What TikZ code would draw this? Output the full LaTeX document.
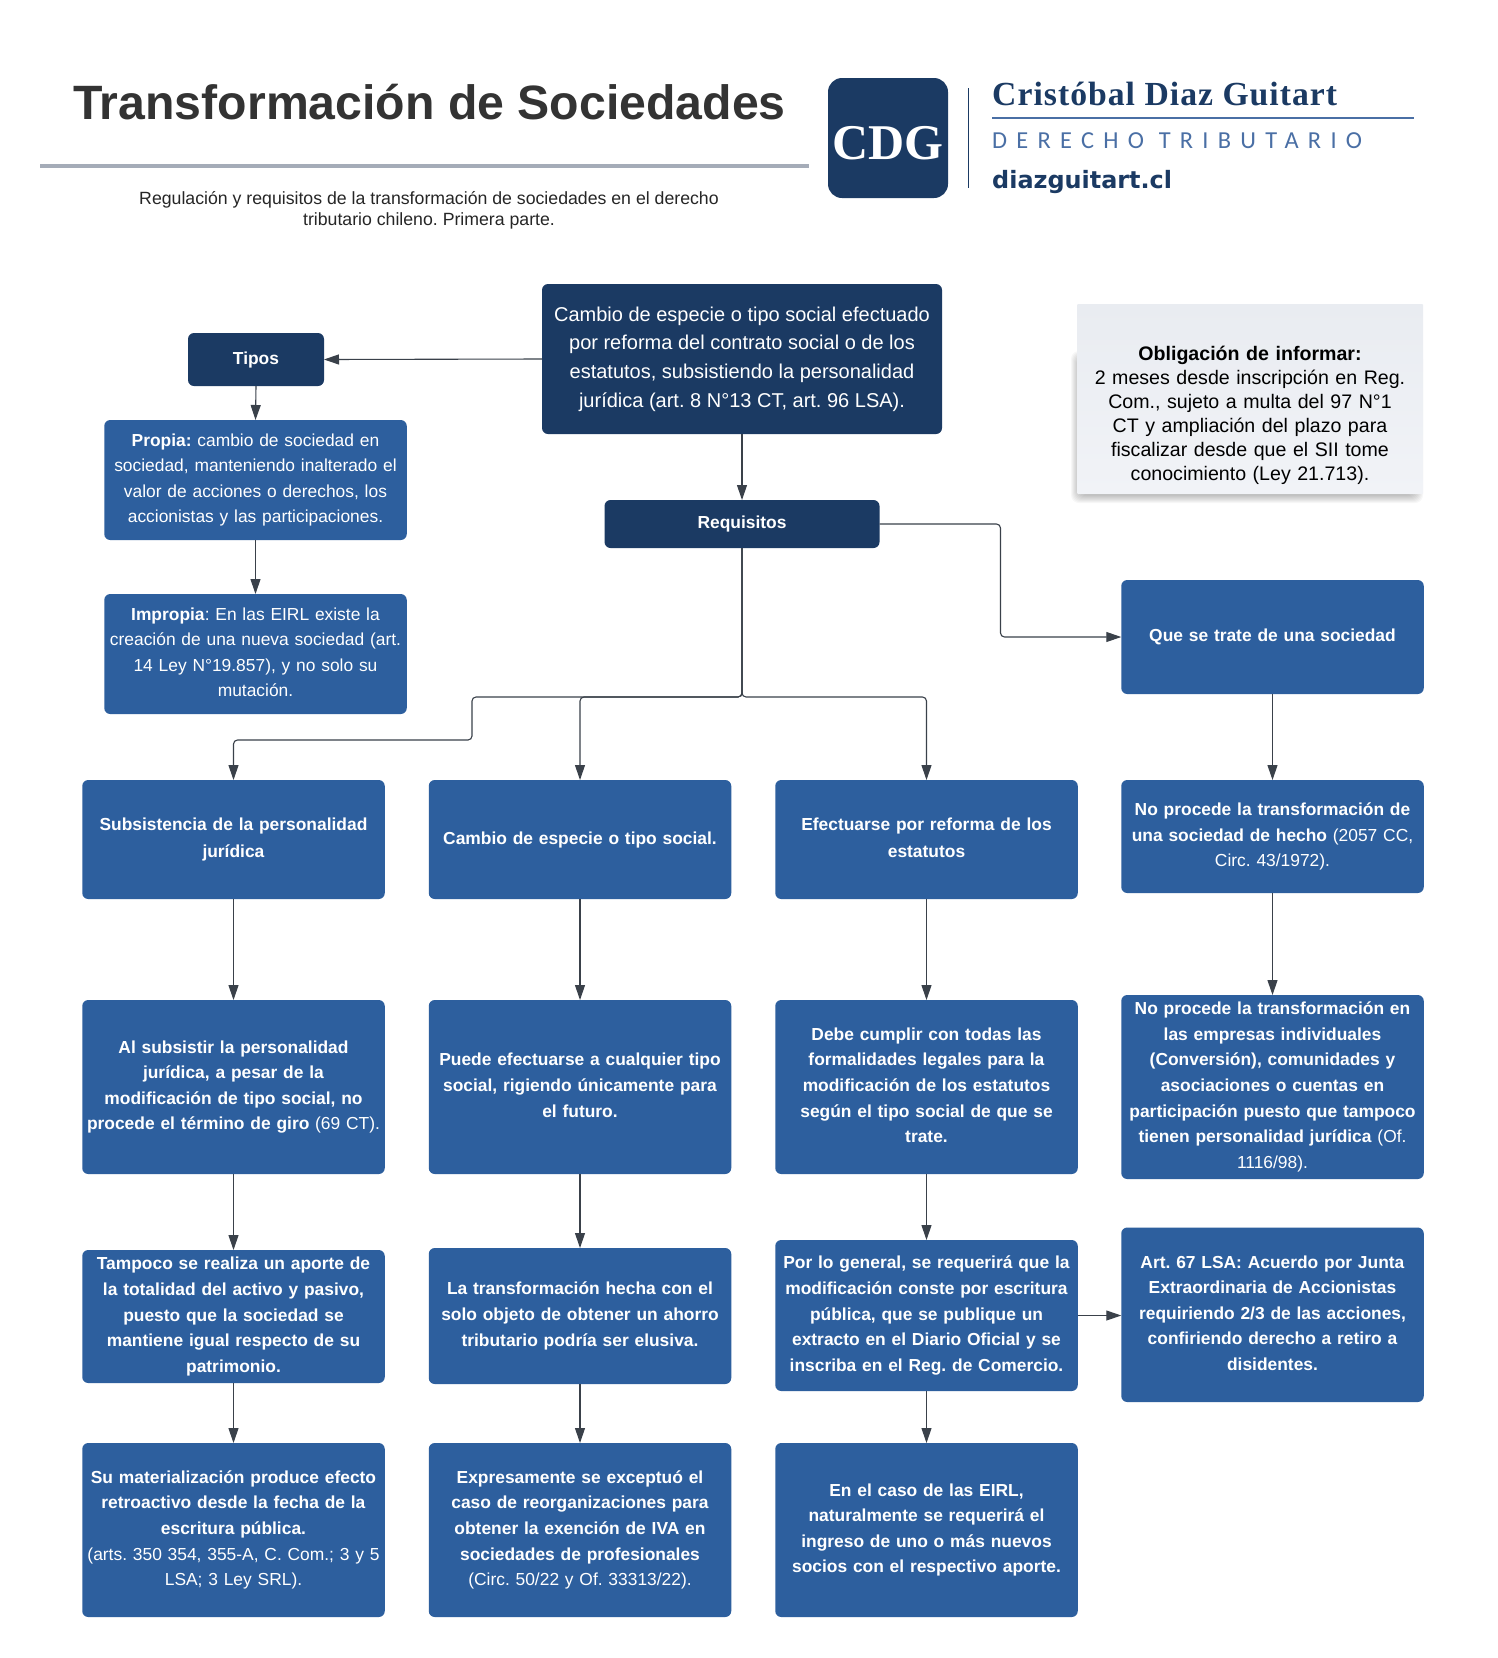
\documentclass[tikz,border=0pt]{standalone}
\usepackage{fontspec}
\setmainfont{Liberation Sans}
\newfontfamily\namefont[LetterSpace=3]{Liberation Serif}
\newfontfamily\logofont{Liberation Serif}
\newfontfamily\brandfont[LetterSpace=38]{Carlito}
\newfontfamily\webfont{DejaVu Sans}
\definecolor{cdgblue}{RGB}{45,95,158}
\definecolor{cdgnavy}{RGB}{27,58,99}
\definecolor{cdgline}{RGB}{58,65,74}
\definecolor{cdgrule}{RGB}{165,172,184}
\definecolor{cdgsub}{RGB}{74,111,165}
\definecolor{notetop}{RGB}{233,236,241}
\definecolor{notebottom}{RGB}{241,243,247}
\usetikzlibrary{arrows.meta,positioning}
\tikzset{
  basebox/.style={rounded corners=6pt, inner sep=0pt, outer sep=0pt, align=center, text=white},
  bluebox/.style={basebox, fill=cdgblue, minimum width=302.5pt, text width=300pt, font=\fontsize{17.4}{25.6}\selectfont, execute at begin node=\rule[-8.5pt]{0pt}{26pt}, execute at end node=\rule[-8.5pt]{0pt}{26pt}},
  navybox/.style={basebox, fill=cdgnavy, font=\fontsize{17.4}{25.6}\selectfont\bfseries},
  conn/.style={-{Triangle[length=15pt,width=10pt]}, line width=1.1pt, draw=cdgline, rounded corners=4pt},
}
\begin{document}
\frenchspacing
\begin{tikzpicture}[x=1pt,y=-1pt]
  \useasboundingbox[fill=white] (0,0) rectangle (1498,1658);
  % header
  \node[anchor=base west, inner sep=0pt, text=black!80, font=\fontsize{48.2}{50}\selectfont\bfseries] (title) at (73,119) {Transformación de Sociedades};
  \node[inner sep=0pt, outer sep=0pt, minimum width=769pt, minimum height=3.5pt, fill=cdgrule] (rule) at (424.5,166) {};
  \node[inner sep=0pt, align=center, text=black!85, font=\fontsize{17.7}{21}\selectfont] (subtitle) at (429,210) {Regulación y requisitos de la transformación de sociedades en el derecho\\tributario chileno. Primera parte.};
  % logo
  \node[basebox, rounded corners=14pt, fill=cdgnavy, minimum width=120pt, minimum height=120pt, font=\logofont\fontsize{50}{52}\selectfont\bfseries] (logo) at (888,138) {\raisebox{-5pt}[\height][\depth]{CDG}};
  \node[inner sep=0pt, outer sep=0pt, minimum width=1.8pt, minimum height=100pt, fill=cdgnavy] (logobar) at (968.5,138) {};
  \node[anchor=base west, inner sep=0pt, text=cdgnavy, font=\namefont\fontsize{33.7}{36}\selectfont\bfseries] (name) at (992,105) {Cristóbal Diaz Guitart};
  \node[inner sep=0pt, outer sep=0pt, minimum width=422pt, minimum height=2pt, fill=cdgsub, anchor=west] (namerule) at (992,118) {};
  \node[anchor=base west, inner sep=0pt, text=cdgsub, font=\brandfont\fontsize{24.4}{26}\selectfont] (brand) at (992,148) {DERECHO TRIBUTARIO};
  \node[anchor=base west, inner sep=0pt, text=cdgnavy, font=\webfont\fontsize{23.9}{27}\selectfont\bfseries] (web) at (992,188) {diazguitart.cl};
  % note
  \foreach \s in {0,...,9}{
    \fill[black, opacity=0.03, rounded corners=8pt] (1080-\s,360-\s) rectangle (1414+\s,494+\s);
  }
  \node[inner sep=0pt, outer sep=0pt, rounded corners=1pt, top color=notetop, bottom color=notebottom, minimum width=346pt, minimum height=190pt] (note) at (1250,399) {};
  \node[inner sep=0pt, text width=330pt, align=center, text=black, font=\fontsize{19.6}{24}\selectfont] (notetext) at (1250,415) {\textbf{Obligación de informar:}\\2 meses desde inscripción en Reg.\\Com., sujeto a multa del 97 N°1\\CT y ampliación del plazo para\\fiscalizar desde que el SII tome\\conocimiento (Ley 21.713).};
  % top of the tree
  \node[navybox, minimum width=400pt, minimum height=150pt, font=\fontsize{20}{28.7}\selectfont] (main) at (742,359) {Cambio de especie o tipo social efectuado\\por reforma del contrato social o de los\\estatutos, subsistiendo la personalidad\\jurídica (art. 8 N°13 CT, art. 96 LSA).};
  \node[navybox, minimum width=275pt, minimum height=48pt, below=66pt of main] (req) {Requisitos};
  \node[navybox, minimum width=136pt, minimum height=53pt] (tipos) at (256,359.5) {Tipos};
  \node[bluebox, minimum height=120pt, below=34pt of tipos, xshift=-0.5pt] (propia) {\textbf{Propia:} cambio de sociedad en\\sociedad, manteniendo inalterado el\\valor de acciones o derechos, los\\accionistas y las participaciones.};
  \node[bluebox, minimum height=120pt, below=54pt of propia] (impropia) {\textbf{Impropia}: En las EIRL existe la\\creación de una nueva sociedad (art.\\14 Ley N°19.857), y no solo su\\mutación.};
  % first column
  \node[bluebox, minimum height=119pt] (sub) at (233.5,839.5) {\textbf{Subsistencia de la personalidad}\\\textbf{jurídica}};
  \node[bluebox, minimum height=174pt, below=101pt of sub] (giro) {\textbf{Al subsistir la personalidad}\\\textbf{jurídica, a pesar de la}\\\textbf{modificación de tipo social, no}\\\textbf{procede el término de giro} (69 CT).};
  \node[bluebox, minimum height=133pt, below=76pt of giro] (aporte) {\textbf{Tampoco se realiza un aporte de}\\\textbf{la totalidad del activo y pasivo,}\\\textbf{puesto que la sociedad se}\\\textbf{mantiene igual respecto de su}\\\textbf{patrimonio.}};
  \node[bluebox, minimum height=174pt, below=60pt of aporte] (retro) {\textbf{Su materialización produce efecto}\\\textbf{retroactivo desde la fecha de la}\\\textbf{escritura pública.}\\(arts. 350 354, 355-A, C. Com.; 3 y 5\\LSA; 3 Ley SRL).};
  % second column
  \node[bluebox, minimum height=119pt, right=44pt of sub] (cambio) {\textbf{Cambio de especie o tipo social.}};
  \node[bluebox, minimum height=174pt, below=101pt of cambio] (futuro) {\textbf{Puede efectuarse a cualquier tipo}\\\textbf{social, rigiendo únicamente para}\\\textbf{el futuro.}};
  \node[bluebox, minimum height=136pt, below=74pt of futuro] (elusiva) {\textbf{La transformación hecha con el}\\\textbf{solo objeto de obtener un ahorro}\\\textbf{tributario podría ser elusiva.}};
  \node[bluebox, minimum height=174pt, below=59pt of elusiva] (iva) {\textbf{Expresamente se exceptuó el}\\\textbf{caso de reorganizaciones para}\\\textbf{obtener la exención de IVA en}\\\textbf{sociedades de profesionales}\\(Circ. 50/22 y Of. 33313/22).};
  % third column
  \node[bluebox, minimum height=119pt, right=44pt of cambio] (reforma) {\textbf{Efectuarse por reforma de los}\\\textbf{estatutos}};
  \node[bluebox, minimum height=174pt, below=101pt of reforma] (formal) {\textbf{Debe cumplir con todas las}\\\textbf{formalidades legales para la}\\\textbf{modificación de los estatutos}\\\textbf{según el tipo social de que se}\\\textbf{trate.}};
  \node[bluebox, minimum height=151pt, below=66pt of formal] (escritura) {\textbf{Por lo general, se requerirá que la}\\\textbf{modificación conste por escritura}\\\textbf{pública, que se publique un}\\\textbf{extracto en el Diario Oficial y se}\\\textbf{inscriba en el Reg. de Comercio.}};
  \node[bluebox, minimum height=174pt, below=52pt of escritura] (eirl) {\textbf{En el caso de las EIRL,}\\\textbf{naturalmente se requerirá el}\\\textbf{ingreso de uno o más nuevos}\\\textbf{socios con el respectivo aporte.}};
  % fourth column
  \node[bluebox, minimum height=114pt] (socied) at (1272.5,637) {\textbf{Que se trate de una sociedad}};
  \node[bluebox, minimum height=113pt, below=86pt of socied] (hecho) {\textbf{No procede la transformación de}\\\textbf{una sociedad de hecho} (2057 CC,\\Circ. 43/1972).};
  \node[bluebox, minimum height=184pt, below=102pt of hecho] (empresas) {\textbf{No procede la transformación en}\\\textbf{las empresas individuales}\\\textbf{(Conversión), comunidades y}\\\textbf{asociaciones o cuentas en}\\\textbf{participación puesto que tampoco}\\\textbf{tienen personalidad jurídica} (Of.\\1116/98).};
  \node[bluebox, minimum height=174.5pt, below=48.5pt of empresas] (junta) {\textbf{Art. 67 LSA: Acuerdo por Junta}\\\textbf{Extraordinaria de Accionistas}\\\textbf{requiriendo 2/3 de las acciones,}\\\textbf{confiriendo derecho a retiro a}\\\textbf{disidentes.}};
  % connectors
  \draw[conn] (main.west) -- (tipos.east);
  \draw[conn] (main.south) -- (req.north);
  \draw[conn] (tipos.south) -- (propia.north);
  \draw[conn] (propia.south) -- (impropia.north);
  \draw[conn] (req.east) -- ++(121,0) |- (socied.west);
  \draw[conn] (req.south) -- ++(0,149) -| ++(-270,43) -| (sub.north);
  \draw[conn] (req.south) -- ++(0,149) -| (cambio.north);
  \draw[conn] (req.south) -- ++(0,149) -| (reforma.north);
  \draw[conn] (sub) -- (giro);
  \draw[conn] (giro) -- (aporte);
  \draw[conn] (aporte) -- (retro);
  \draw[conn] (cambio) -- (futuro);
  \draw[conn] (futuro) -- (elusiva);
  \draw[conn] (elusiva) -- (iva);
  \draw[conn] (reforma) -- (formal);
  \draw[conn] (formal) -- (escritura);
  \draw[conn] (escritura) -- (eirl);
  \draw[conn] (socied) -- (hecho);
  \draw[conn] (hecho) -- (empresas);
  \draw[conn] (escritura.east) -- (junta.west |- escritura.east);
\end{tikzpicture}
\end{document}
